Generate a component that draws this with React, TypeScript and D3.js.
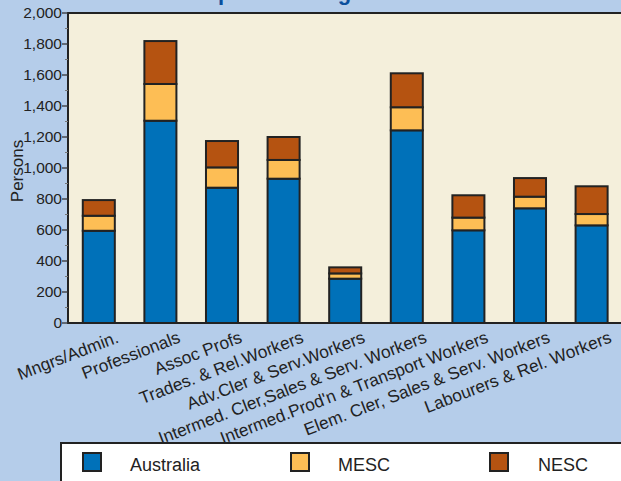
import React from "react";
import * as d3 from "d3";

const categories = [
  "Mngrs/Admin.",
  "Professionals",
  "Assoc Profs",
  "Trades. & Rel.Workers",
  "Adv.Cler & Serv.Workers",
  "Intermed. Cler,Sales & Serv. Workers",
  "Intermed.Prod'n & Transport Workers",
  "Elem. Cler, Sales & Serv. Workers",
  "Labourers & Rel. Workers",
];
const seriesNames = ["Australia", "MESC", "NESC"];
const australia = [595, 1305, 873, 931, 286, 1243, 598, 740, 630];
const mesc = [97, 237, 131, 121, 34, 149, 82, 75, 73];
const nesc = [101, 277, 170, 148, 39, 219, 144, 120, 179];
const yTicks = [0, 200, 400, 600, 800, 1000, 1200, 1400, 1600, 1800, 2000];
const titleText = "Occupation Categories";
const yLabel = "Persons";

const colors = ["#0071b9", "#fdbe55", "#b55311"];
const FONT = "'Liberation Sans', Arial, Helvetica, sans-serif";

export default function App() {
  const W = 621, H = 481;
  const left = 68, top = 13, bottom = 323, right = 622.4;
  const x = d3.scaleBand<string>().domain(categories).range([left, right]).paddingInner(0.48).paddingOuter(0.24);
  const y = d3.scaleLinear().domain([0, 2000]).range([bottom, top]);
  const rows = categories.map((c, i) => ({ cat: c, Australia: australia[i], MESC: mesc[i], NESC: nesc[i] }));
  const stacked = d3.stack<any>().keys(seriesNames)(rows);
  const fmt = d3.format(",");
  const minor = d3.range(100, 2000, 200);
  const legendX = [83, 291, 490];
  const legendTextX = [130, 338, 538];

  return (
    <svg width={W} height={H} style={{ position: "absolute", left: 0, top: 0, display: "block" }} fontFamily={FONT}>
      <rect x={0} y={0} width={W} height={H} fill="#b5cdea" />
      <text x={163} y={-0.5} fontSize={22} fontWeight="bold" fill="#0b4f9c">{titleText}</text>
      <rect x={left} y={top} width={right - left + 10} height={bottom - top} fill="#f4efdb" stroke="#222" strokeWidth={2} />
      {stacked.map((s, si) =>
        s.map((d, i) => (
          <rect
            key={si + "-" + i}
            x={x(categories[i])!}
            y={y(d[1])}
            width={x.bandwidth()}
            height={y(d[0]) - y(d[1])}
            fill={colors[si]}
            stroke="#222"
            strokeWidth={2}
          />
        ))
      )}
      <line x1={left} x2={W} y1={bottom} y2={bottom} stroke="#222" strokeWidth={2} />
      <line x1={left} x2={left} y1={top} y2={bottom} stroke="#222" strokeWidth={2} />
      {yTicks.map((t) => (
        <g key={t}>
          <line x1={left - 6} x2={left} y1={y(t)} y2={y(t)} stroke="#333" strokeWidth={1.3} />
          <text x={left - 6} y={y(t)} dy="0.35em" textAnchor="end" fontSize={15.5} fill="#222">{fmt(t)}</text>
        </g>
      ))}
      {minor.map((t) => (
        <line key={"m" + t} x1={left - 3} x2={left} y1={y(t)} y2={y(t)} stroke="#777" strokeWidth={1} />
      ))}
      <text transform={`translate(23,171) rotate(-90)`} textAnchor="middle" fontSize={17} fill="#222">{yLabel}</text>
      {categories.map((c) => {
        const cx = x(c)! + x.bandwidth() / 2;
        return (
          <text key={c} transform={`translate(${cx + 21},342) rotate(-21)`} textAnchor="end" fontSize={17.3} fill="#222">{c}</text>
        );
      })}
      <rect x={61} y={443} width={600} height={60} fill="#ffffff" stroke="#222" strokeWidth={2} />
      {seriesNames.map((n, i) => (
        <g key={n}>
          <rect x={legendX[i]} y={453} width={18} height={18} fill={colors[i]} stroke="#222" strokeWidth={2} />
          <text x={legendTextX[i]} y={471} fontSize={18} fill="#222">{n}</text>
        </g>
      ))}
    </svg>
  );
}
